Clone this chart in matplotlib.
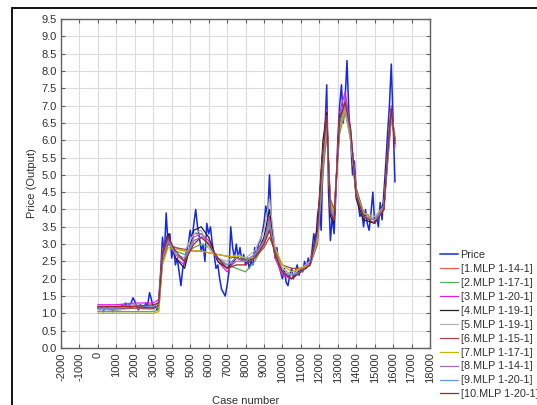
import numpy as np
import matplotlib.pyplot as plt
from matplotlib.patches import Rectangle

plt.rcParams['font.family'] = ['Liberation Sans', 'DejaVu Sans']

# observed price, one value per 100 cases (0 .. 16100)
price_x = list(range(0, 16200, 100))
price = [
    1.15, 1.10, 1.20, 1.05, 1.15, 1.20, 1.10, 1.15, 1.05, 1.20,
    1.15, 1.20, 1.10, 1.25, 1.20, 1.30, 1.20, 1.25, 1.30, 1.45,
    1.35, 1.20, 1.10, 1.25, 1.20, 1.15, 1.30, 1.25, 1.60, 1.40,
    1.15, 1.20, 1.10, 1.40, 2.20, 3.20, 2.70, 3.90, 3.00, 3.30,
    2.60, 2.90, 2.40, 2.60, 2.20, 1.80, 2.30, 2.50, 2.80, 3.00,
    3.40, 3.10, 3.60, 4.00, 3.50, 3.20, 2.80, 3.00, 2.50, 3.60,
    3.30, 3.50, 3.00, 2.70, 2.30, 2.40, 2.00, 1.70, 1.60, 1.50,
    1.80, 2.20, 3.50, 2.90, 2.60, 3.00, 2.60, 2.90, 2.50, 2.70,
    2.40, 2.60, 2.30, 2.50, 2.40, 2.90, 2.70, 3.00, 3.10, 3.30,
    3.60, 4.10, 3.80, 5.00, 3.60, 3.20, 2.60, 2.90, 2.40, 2.20,
    2.00, 2.30, 1.90, 1.80, 2.10, 2.30, 2.00, 2.20, 2.40, 2.10,
    2.30, 2.20, 2.50, 2.30, 2.60, 2.40, 2.80, 3.30, 3.00, 3.80,
    4.20, 3.40, 5.50, 6.20, 7.60, 4.50, 3.10, 3.80, 3.30, 4.50,
    6.00, 7.00, 7.60, 6.50, 7.20, 8.30, 6.80, 6.00, 5.00, 5.40,
    4.50, 4.20, 3.80, 3.90, 3.50, 4.00, 3.60, 3.40, 3.90, 4.50,
    3.60, 3.80, 3.50, 4.20, 3.70, 4.50, 5.30, 6.20, 7.00, 8.20,
    6.50, 4.80,
]

# network outputs, sampled at these case numbers
model_x = [0, 1000, 2000, 3000, 3300, 3500, 3800, 4200, 4700, 5200,
           5600, 6000, 6500, 7000, 7500, 8000, 8500, 9000, 9300, 9600,
           10000, 10500, 11000, 11500, 11900, 12200, 12400, 12600, 12800, 13100,
           13400, 13700, 14000, 14400, 15000, 15500, 15700, 15900, 16100]

mlp1 = [1.15, 1.15, 1.20, 1.20, 1.30, 2.60, 3.20, 2.70, 2.50, 3.10,
        3.20, 3.00, 2.60, 2.30, 2.50, 2.50, 2.70, 3.00, 3.50, 2.70,
        2.20, 2.00, 2.20, 2.40, 3.30, 5.50, 6.60, 4.00, 3.80, 6.50,
        7.00, 6.20, 4.50, 3.80, 3.70, 4.00, 5.50, 6.80, 6.00]
mlp2 = [1.05, 1.05, 1.05, 1.05, 1.10, 2.50, 3.00, 2.80, 2.70, 2.90,
        3.00, 2.90, 2.60, 2.40, 2.30, 2.20, 2.50, 3.00, 3.60, 2.80,
        2.30, 2.10, 2.20, 2.40, 3.10, 5.00, 6.20, 4.20, 3.90, 6.20,
        6.80, 6.00, 4.60, 3.90, 3.70, 4.10, 5.30, 6.60, 6.10]
mlp3 = [1.25, 1.25, 1.30, 1.30, 1.40, 2.80, 3.30, 2.60, 2.40, 3.30,
        3.30, 3.10, 2.50, 2.20, 2.60, 2.50, 2.70, 3.10, 3.80, 2.60,
        2.10, 2.00, 2.20, 2.50, 3.40, 5.80, 6.90, 3.90, 3.70, 6.80,
        7.40, 6.30, 4.40, 3.80, 3.70, 4.00, 5.70, 7.00, 5.80]
mlp4 = [1.15, 1.10, 1.20, 1.15, 1.20, 2.70, 3.30, 2.60, 2.30, 3.40,
        3.50, 3.20, 2.50, 2.30, 2.60, 2.50, 2.60, 3.20, 4.00, 2.70,
        2.20, 2.00, 2.30, 2.40, 3.50, 6.00, 6.80, 3.80, 3.60, 6.70,
        7.10, 6.10, 4.30, 3.70, 3.60, 4.20, 5.60, 6.90, 6.00]
mlp5 = [1.10, 1.10, 1.15, 1.10, 1.20, 2.60, 3.00, 2.90, 2.80, 3.30,
        3.40, 2.90, 2.60, 2.50, 2.70, 2.60, 2.80, 3.40, 4.30, 2.90,
        2.30, 2.10, 2.30, 2.50, 3.20, 5.60, 6.50, 4.10, 3.80, 6.40,
        6.90, 6.00, 4.50, 3.90, 3.80, 4.10, 5.40, 6.70, 6.20]
mlp6 = [1.15, 1.15, 1.15, 1.15, 1.20, 2.50, 3.00, 2.90, 2.85, 2.80,
        2.80, 2.75, 2.70, 2.65, 2.60, 2.55, 2.60, 2.90, 3.20, 2.80,
        2.40, 2.30, 2.30, 2.40, 3.00, 5.20, 6.30, 4.30, 4.00, 6.30,
        6.90, 6.10, 4.60, 3.90, 3.70, 4.00, 5.40, 6.70, 6.00]
mlp7 = [1.00, 1.00, 1.00, 1.00, 1.05, 2.40, 2.90, 2.85, 2.80, 2.80,
        2.80, 2.75, 2.70, 2.65, 2.65, 2.60, 2.60, 3.00, 3.40, 2.90,
        2.40, 2.20, 2.30, 2.40, 3.10, 5.30, 6.40, 4.20, 3.90, 6.30,
        6.90, 6.00, 4.50, 3.90, 3.70, 4.10, 5.50, 6.70, 6.10]
mlp8 = [1.20, 1.20, 1.25, 1.20, 1.30, 2.70, 3.20, 2.70, 2.50, 3.20,
        3.30, 3.00, 2.60, 2.40, 2.60, 2.50, 2.70, 3.10, 3.70, 2.70,
        2.20, 2.00, 2.20, 2.40, 3.30, 5.60, 6.70, 4.00, 3.70, 6.60,
        7.20, 6.20, 4.40, 3.80, 3.70, 4.10, 5.60, 6.90, 5.90]
mlp9 = [1.15, 1.15, 1.20, 1.20, 1.30, 2.60, 3.10, 2.70, 2.60, 3.10,
        3.20, 3.00, 2.60, 2.40, 2.50, 2.50, 2.70, 3.00, 3.50, 2.70,
        2.20, 2.10, 2.20, 2.40, 3.20, 5.40, 6.50, 4.10, 3.80, 6.50,
        7.00, 6.10, 4.50, 3.80, 3.70, 4.00, 5.50, 6.80, 6.00]
mlp10 = [1.20, 1.20, 1.20, 1.25, 1.30, 2.70, 3.20, 2.80, 2.50, 3.00,
         3.20, 3.00, 2.60, 2.30, 2.40, 2.40, 2.60, 3.00, 3.40, 2.70,
         2.20, 2.00, 2.20, 2.40, 3.40, 5.70, 6.70, 3.90, 3.70, 6.60,
         7.10, 6.30, 4.40, 3.80, 3.60, 4.00, 5.60, 6.90, 5.90]

models = [mlp1, mlp2, mlp3, mlp4, mlp5, mlp6, mlp7, mlp8, mlp9, mlp10]
model_names = ['[1.MLP 1-14-1]', '[2.MLP 1-17-1]', '[3.MLP 1-20-1]',
               '[4.MLP 1-19-1]', '[5.MLP 1-19-1]', '[6.MLP 1-15-1]',
               '[7.MLP 1-17-1]', '[8.MLP 1-14-1]', '[9.MLP 1-20-1]',
               '[10.MLP 1-20-1]']
model_colors = ['#f05a50', '#5aaa5a', '#e020e0', '#202020', '#b4b4b4',
                '#a04848', '#c8b400', '#a070b0', '#7090e0', '#a02828']

fig = plt.figure(figsize=(5.37, 4.05), dpi=100)
ax = fig.add_axes([0.1136, 0.1407, 0.6872, 0.8124])

ax.plot(price_x, price, color='#1428e6', lw=1.1, label='Price')
for vals, name, col in zip(models, model_names, model_colors):
    ax.plot(model_x, vals, color=col, lw=0.9, label=name)

ax.set_xlim(-2000, 18000)
ax.set_ylim(0, 9.5)
ax.set_xticks(np.arange(-2000, 18001, 1000))
ax.set_xticklabels([str(v) for v in range(-2000, 18001, 1000)], rotation=90)
ax.set_yticks(np.arange(0, 9.51, 0.5))
ax.set_yticklabels(['%.1f' % v for v in np.arange(0, 9.51, 0.5)])
ax.tick_params(direction='in', length=3, width=0.8, color='#606060',
               labelsize=8, labelcolor='#303030', top=True, right=True, pad=3)
ax.grid(True, color='#dcdcdc', lw=0.8)
ax.set_axisbelow(True)
for sp in ax.spines.values():
    sp.set_color('#606060')
    sp.set_linewidth(1.0)

ax.set_xlabel('Case number', fontsize=8, color='#303030', labelpad=9)
ax.set_ylabel('Price (Output)', fontsize=8, color='#303030', labelpad=3)

fig.legend(loc='upper left', bbox_to_anchor=(0.8194, 0.382), frameon=False,
           fontsize=7.8, handlelength=1.65, handletextpad=0.25, labelspacing=0.36,
           borderpad=0, borderaxespad=0, labelcolor='#303030')

# outer frame
fig.add_artist(Rectangle((12 / 537, -0.1), 1.2, 1.1 - 8 / 405, fill=False,
                         ec='black', lw=1.3, transform=fig.transFigure))

fig.savefig('out.png', dpi=100)
